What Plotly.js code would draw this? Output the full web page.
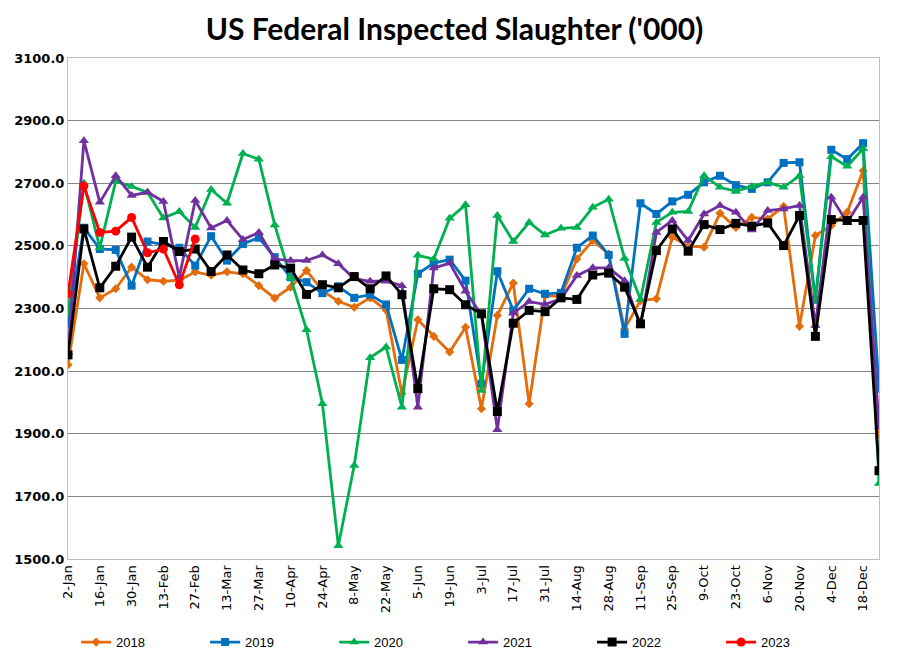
<!DOCTYPE html>
<html>
<head>
<meta charset="utf-8">
<script src="https://cdn.plot.ly/plotly-3.0.1.min.js"></script>
<style>
html,body{margin:0;padding:0;background:#fff;}
#chart{width:909px;height:660px;}
</style>
</head>
<body>
<div id="chart"></div>
<script>
const weeks = ["2-Jan","9-Jan","16-Jan","23-Jan","30-Jan","6-Feb","13-Feb","20-Feb","27-Feb","6-Mar","13-Mar","20-Mar","27-Mar","3-Apr","10-Apr","17-Apr","24-Apr","1-May","8-May","15-May","22-May","29-May","5-Jun","12-Jun","19-Jun","26-Jun","3-Jul","10-Jul","17-Jul","24-Jul","31-Jul","7-Aug","14-Aug","21-Aug","28-Aug","4-Sep","11-Sep","18-Sep","25-Sep","2-Oct","9-Oct","16-Oct","23-Oct","30-Oct","6-Nov","13-Nov","20-Nov","27-Nov","4-Dec","11-Dec","18-Dec","25-Dec"];

const tickLabels = ["2-Jan","16-Jan","30-Jan","13-Feb","27-Feb","13-Mar","27-Mar","10-Apr","24-Apr","8-May","22-May","5-Jun","19-Jun","3-Jul","17-Jul","31-Jul","14-Aug","28-Aug","11-Sep","25-Sep","9-Oct","23-Oct","6-Nov","20-Nov","4-Dec","18-Dec"];

const yTickVals = [1500,1700,1900,2100,2300,2500,2700,2900,3100];
const yTickText = ["1500.0","1700.0","1900.0","2100.0","2300.0","2500.0","2700.0","2900.0","3100.0"];

const y2018 = [2120,2443,2334,2363,2432,2392,2387,2390,2417,2406,2417,2411,2373,2333,2368,2421,2357,2323,2304,2334,2295,2028,2264,2211,2161,2240,1980,2278,2381,1996,2341,2338,2458,2517,2474,2235,2325,2331,2528,2499,2496,2604,2559,2591,2586,2626,2243,2533,2565,2607,2740,1900];
const y2019 = [2251,2558,2490,2487,2373,2514,2504,2494,2437,2531,2453,2506,2526,2464,2400,2384,2349,2371,2334,2344,2313,2136,2411,2445,2456,2389,2060,2419,2294,2363,2347,2350,2494,2533,2471,2219,2636,2602,2642,2663,2703,2724,2694,2682,2703,2765,2767,2328,2807,2777,2828,2044];
const y2020 = [2285,2700,2494,2706,2690,2671,2589,2610,2559,2680,2636,2795,2777,2567,2398,2232,1996,1542,1799,2143,2177,1985,2470,2458,2588,2631,2038,2597,2514,2575,2535,2556,2559,2623,2649,2460,2329,2575,2607,2610,2724,2687,2674,2690,2703,2687,2724,2326,2785,2754,2810,1741];
const y2021 = [2160,2836,2639,2724,2661,2671,2642,2400,2645,2557,2581,2520,2543,2458,2453,2453,2471,2443,2395,2387,2387,2373,1985,2429,2445,2355,2280,1913,2285,2322,2313,2331,2405,2430,2430,2389,2245,2543,2581,2517,2602,2629,2607,2551,2613,2618,2629,2246,2655,2575,2655,1922];
const y2022 = [2152,2554,2366,2435,2528,2432,2514,2482,2490,2418,2471,2423,2411,2439,2429,2345,2376,2366,2402,2363,2404,2344,2044,2363,2360,2312,2283,1971,2253,2294,2290,2334,2329,2407,2413,2368,2251,2485,2554,2483,2568,2552,2572,2563,2573,2501,2597,2211,2584,2581,2581,1782];
const y2023 = [2347,2691,2543,2547,2591,2478,2490,2376,2522];

const seriesNames = ["2018","2019","2020","2021","2022","2023"];
const seriesData = [y2018,y2019,y2020,y2021,y2022,y2023];
const colors = ["#E46C0A","#0070C0","#00B050","#7030A0","#000000","#FF0000"];
const symbols = ["diamond","square","triangle-up","triangle-up","square","circle"];
const sizes = [7,8,9,9,9,9];

const traces = seriesNames.map((n,k)=>({
  type:"scatter", mode:"lines+markers", name:n,
  x: weeks.slice(0, seriesData[k].length),
  y: seriesData[k],
  line:{color:colors[k], width:2.8},
  marker:{symbol:symbols[k], size:sizes[k], color:colors[k]}
}));

const layout = {
  width:909, height:660,
  paper_bgcolor:"#fff", plot_bgcolor:"#fff",
  margin:{l:68, r:30, t:58, b:101, autoexpand:false},
  font:{family:"DejaVu Sans", color:"#000"},
  title:{text:"<b>US Federal Inspected Slaughter ('000)</b>", x:0.5, xanchor:"center", y:0.955, yanchor:"middle",
         font:{family:"Lato", size:30, color:"#000"}},
  showlegend:true,
  legend:{orientation:"h", x:0.01, xanchor:"left", y:-0.136, yanchor:"top",
          font:{family:"Liberation Sans Narrow, Liberation Sans", size:13, color:"#000"},
          entrywidth:84, entrywidthmode:"pixels", itemwidth:30, tracegroupgap:0},
  xaxis:{type:"category", categoryorder:"array", categoryarray:weeks,
         range:[0,51], tickmode:"array", tickvals:tickLabels, ticktext:tickLabels,
         tickangle:-90, tickfont:{family:"DejaVu Sans, Verdana", size:13, color:"#000"},
         showgrid:false, showline:true, linecolor:"#BFBFBF", linewidth:1, mirror:true,
         ticks:"", zeroline:false, fixedrange:true},
  yaxis:{range:[1500,3100], tickmode:"array", tickvals:yTickVals, ticktext:yTickText.map(t=>"<b>"+t+"</b>"),
         tickfont:{family:"DejaVu Sans, Verdana", size:13, color:"#000"},
         showgrid:true, gridcolor:"#868686", gridwidth:1,
         showline:true, linecolor:"#BFBFBF", linewidth:1, mirror:true,
         ticks:"", ticklen:0, zeroline:false, fixedrange:true}
};

Plotly.newPlot("chart", traces, layout, {displayModeBar:false, staticPlot:true});
</script>
</body>
</html>
